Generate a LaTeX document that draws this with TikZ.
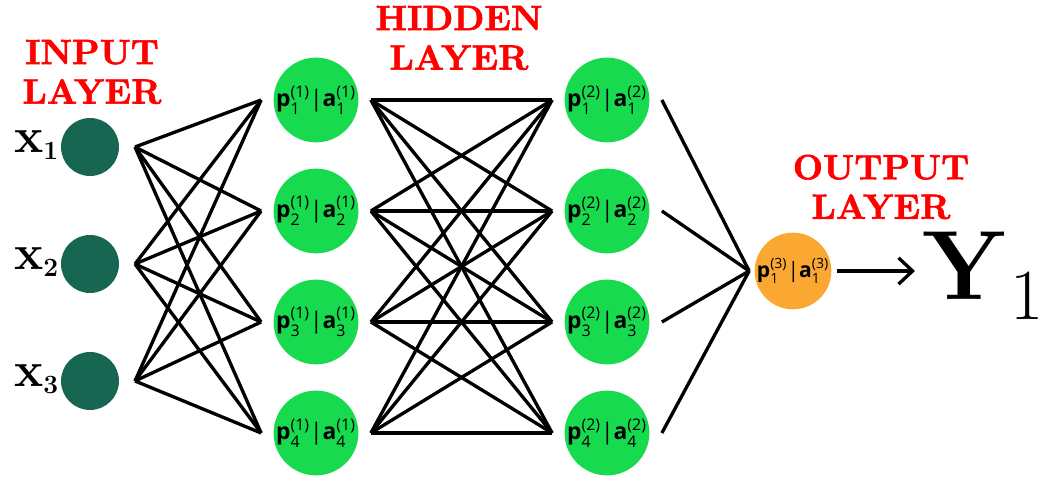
\documentclass[tikz,border=0pt]{standalone}
\usepackage{amsmath}
\usepackage{fontspec}
\usepackage{tikz}
\usetikzlibrary{arrows.meta}
\newfontfamily\nodefont{Open Sans}
\newfontfamily\titlefont{lmroman10-bold.otf}[FakeBold=1.6]
\definecolor{layerIn}{HTML}{166652}
\definecolor{layerHid}{HTML}{17DA4F}
\definecolor{layerOut}{HTML}{FAA832}
\definecolor{titleRed}{HTML}{FF0000}
\newcommand{\pa}[2]{\textbf{p}$^{\text{(#2)}}_{\text{#1}}$|\textbf{a}$^{\text{(#2)}}_{\text{#1}}$}
\newcommand{\xin}[1]{\textbf{x}\raisebox{-4pt}{\fontsize{15}{17}\selectfont\bfseries #1}}
\tikzset{
  inp/.style={circle, fill=layerIn, minimum size=1.16cm, inner sep=0pt, outer sep=0.32cm},
  hid/.style={circle, fill=layerHid, minimum size=1.68cm, inner sep=0pt, outer sep=0.25cm,
    font=\nodefont\fontsize{13}{15}\selectfont},
  outp/.style={circle, fill=layerOut, minimum size=1.48cm, inner sep=0pt, outer sep=0.11cm,
    font=\nodefont\fontsize{12}{14}\selectfont},
  xlab/.style={inner sep=0pt, font=\fontsize{28}{30}\selectfont},
  link/.style={line width=1.9pt, draw=black},
  layertitle/.style={text=titleRed, align=center, font=\titlefont\fontsize{20}{22.5}\selectfont}
}

\begin{document}
\begin{tikzpicture}[x=1cm,y=1cm]
  \useasboundingbox (0,0) rectangle (20.92,9.56);

  % input layer
  \foreach \n/\y in {1/6.62,2/4.28,3/1.94}
  {
    \node[inp] (i\n) at (1.8,\y) {};
    \node[xlab, anchor=base east] (x\n) at (1.17,\y-0.11) {\xin{\n}};
  }

  % hidden layers
  \foreach \n/\y in {1/7.56,2/5.34,3/3.12,4/0.90}
  {
    \node[hid] (h\n) at (6.32,\y) {\pa{\n}{1}};
    \node[hid] (g\n) at (12.14,\y) {\pa{\n}{2}};
  }

  % output layer
  \node[outp] (o1) at (15.86,4.14) {\pa{1}{3}};
  \node[anchor=base west, inner sep=0.15cm, font=\fontsize{56}{60}\selectfont] (y1) at (18.3,3.56)
    {\textbf{Y}\kern2pt\raisebox{-11pt}{\fontsize{41}{44}\selectfont 1}};

  % titles
  \node[layertitle] (tin) at (1.84,8.12) {INPUT\\LAYER};
  \node[layertitle] (thid) at (9.18,8.8) {HIDDEN\\LAYER};
  \node[layertitle] (tout) at (17.62,5.82) {OUTPUT\\LAYER};

  % connections
  \foreach \a in {1,2,3} \foreach \b in {1,...,4} \draw[link] (i\a.east) -- (h\b.west);
  \foreach \a in {1,...,4} \foreach \b in {1,...,4} \draw[link] (h\a.east) -- (g\b.west);
  \foreach \a in {1,...,4} \draw[link] (g\a.east) -- (o1.west);
  \draw[link, -{Straight Barb[length=8pt,width=15pt]}] (o1.east) -- (o1.east -| y1.west);
\end{tikzpicture}
\end{document}
